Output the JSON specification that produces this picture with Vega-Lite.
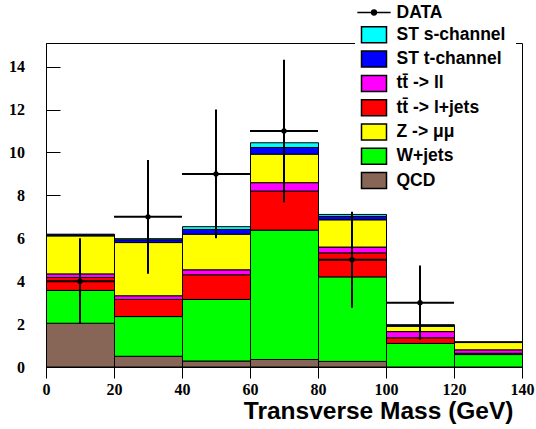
{
  "$schema": "https://vega.github.io/schema/vega-lite/v6.json",
  "width": 476,
  "height": 324,
  "autosize": "none",
  "padding": {"left": 46, "top": 43, "right": 14, "bottom": 62},
  "background": "white",
  "config": {"view": {"stroke": "black", "strokeWidth": 1}},
  "datasets": {
    "stack": [
      {"lo": 0, "hi": 20, "proc": "QCD", "ord": 1, "n": 2.04},
      {"lo": 0, "hi": 20, "proc": "W+jets", "ord": 2, "n": 1.53},
      {"lo": 0, "hi": 20, "proc": "tt\u0304 -> l+jets", "ord": 3, "n": 0.60},
      {"lo": 0, "hi": 20, "proc": "tt\u0304 -> ll", "ord": 4, "n": 0.17},
      {"lo": 0, "hi": 20, "proc": "Z -> μμ", "ord": 5, "n": 1.77},
      {"lo": 0, "hi": 20, "proc": "ST t-channel", "ord": 6, "n": 0.05},
      {"lo": 0, "hi": 20, "proc": "ST s-channel", "ord": 7, "n": 0.03},
      {"lo": 20, "hi": 40, "proc": "QCD", "ord": 1, "n": 0.50},
      {"lo": 20, "hi": 40, "proc": "W+jets", "ord": 2, "n": 1.85},
      {"lo": 20, "hi": 40, "proc": "tt\u0304 -> l+jets", "ord": 3, "n": 0.80},
      {"lo": 20, "hi": 40, "proc": "tt\u0304 -> ll", "ord": 4, "n": 0.17},
      {"lo": 20, "hi": 40, "proc": "Z -> μμ", "ord": 5, "n": 2.48},
      {"lo": 20, "hi": 40, "proc": "ST t-channel", "ord": 6, "n": 0.13},
      {"lo": 20, "hi": 40, "proc": "ST s-channel", "ord": 7, "n": 0.05},
      {"lo": 40, "hi": 60, "proc": "QCD", "ord": 1, "n": 0.28},
      {"lo": 40, "hi": 60, "proc": "W+jets", "ord": 2, "n": 2.87},
      {"lo": 40, "hi": 60, "proc": "tt\u0304 -> l+jets", "ord": 3, "n": 1.15},
      {"lo": 40, "hi": 60, "proc": "tt\u0304 -> ll", "ord": 4, "n": 0.23},
      {"lo": 40, "hi": 60, "proc": "Z -> μμ", "ord": 5, "n": 1.66},
      {"lo": 40, "hi": 60, "proc": "ST t-channel", "ord": 6, "n": 0.22},
      {"lo": 40, "hi": 60, "proc": "ST s-channel", "ord": 7, "n": 0.13},
      {"lo": 60, "hi": 80, "proc": "QCD", "ord": 1, "n": 0.35},
      {"lo": 60, "hi": 80, "proc": "W+jets", "ord": 2, "n": 6.03},
      {"lo": 60, "hi": 80, "proc": "tt\u0304 -> l+jets", "ord": 3, "n": 1.82},
      {"lo": 60, "hi": 80, "proc": "tt\u0304 -> ll", "ord": 4, "n": 0.39},
      {"lo": 60, "hi": 80, "proc": "Z -> μμ", "ord": 5, "n": 1.33},
      {"lo": 60, "hi": 80, "proc": "ST t-channel", "ord": 6, "n": 0.31},
      {"lo": 60, "hi": 80, "proc": "ST s-channel", "ord": 7, "n": 0.22},
      {"lo": 80, "hi": 100, "proc": "QCD", "ord": 1, "n": 0.26},
      {"lo": 80, "hi": 100, "proc": "W+jets", "ord": 2, "n": 3.94},
      {"lo": 80, "hi": 100, "proc": "tt\u0304 -> l+jets", "ord": 3, "n": 1.12},
      {"lo": 80, "hi": 100, "proc": "tt\u0304 -> ll", "ord": 4, "n": 0.27},
      {"lo": 80, "hi": 100, "proc": "Z -> μμ", "ord": 5, "n": 1.27},
      {"lo": 80, "hi": 100, "proc": "ST t-channel", "ord": 6, "n": 0.16},
      {"lo": 80, "hi": 100, "proc": "ST s-channel", "ord": 7, "n": 0.09},
      {"lo": 100, "hi": 120, "proc": "W+jets", "ord": 2, "n": 1.10},
      {"lo": 100, "hi": 120, "proc": "tt\u0304 -> l+jets", "ord": 3, "n": 0.26},
      {"lo": 100, "hi": 120, "proc": "tt\u0304 -> ll", "ord": 4, "n": 0.29},
      {"lo": 100, "hi": 120, "proc": "Z -> μμ", "ord": 5, "n": 0.25},
      {"lo": 100, "hi": 120, "proc": "ST t-channel", "ord": 6, "n": 0.04},
      {"lo": 100, "hi": 120, "proc": "ST s-channel", "ord": 7, "n": 0.03},
      {"lo": 120, "hi": 140, "proc": "W+jets", "ord": 2, "n": 0.58},
      {"lo": 120, "hi": 140, "proc": "tt\u0304 -> l+jets", "ord": 3, "n": 0.06},
      {"lo": 120, "hi": 140, "proc": "tt\u0304 -> ll", "ord": 4, "n": 0.16},
      {"lo": 120, "hi": 140, "proc": "Z -> μμ", "ord": 5, "n": 0.34},
      {"lo": 120, "hi": 140, "proc": "ST t-channel", "ord": 6, "n": 0.02},
      {"lo": 120, "hi": 140, "proc": "ST s-channel", "ord": 7, "n": 0.01}
    ],
    "obs": [
      {"xc": 10, "xlo": 0, "xhi": 20, "v": 4, "elo": 2, "ehi": 6},
      {"xc": 30, "xlo": 20, "xhi": 40, "v": 7, "elo": 4.35, "ehi": 9.65},
      {"xc": 50, "xlo": 40, "xhi": 60, "v": 9, "elo": 6, "ehi": 12},
      {"xc": 70, "xlo": 60, "xhi": 80, "v": 11, "elo": 7.68, "ehi": 14.32},
      {"xc": 90, "xlo": 80, "xhi": 100, "v": 5, "elo": 2.76, "ehi": 7.24},
      {"xc": 110, "xlo": 100, "xhi": 120, "v": 3, "elo": 1.27, "ehi": 4.73}
    ]
  },
  "layer": [
    {
      "data": {"name": "stack"},
      "mark": {"type": "bar", "stroke": "black", "strokeWidth": 1, "opacity": 1, "binSpacing": 0},
      "encoding": {
        "x": {
          "field": "lo", "type": "quantitative", "bin": "binned",
          "title": "Transverse Mass (GeV)",
          "scale": {"domain": [0, 140], "nice": false, "zero": false},
          "axis": {
            "values": [0,5,10,15,20,25,30,35,40,45,50,55,60,65,70,75,80,85,90,95,100,105,110,115,120,125,130,135,140],
            "format": "d",
            "labelExpr": "datum.value % 20 === 0 ? datum.label : ''",
            "tickSize": {"condition": {"test": "datum.value % 20 === 0", "value": 11}, "value": 6},
            "tickColor": "black", "tickWidth": 1, "domainColor": "black", "grid": false,
            "labelFont": "Times New Roman, Liberation Serif, DejaVu Serif, serif", "labelFontWeight": "bold", "labelFontSize": 16, "labelColor": "black",
            "labelPadding": 3, "labelFlush": false, "labelOverlap": false,
            "titleFont": "Liberation Sans, sans-serif", "titleFontWeight": "bold", "titleFontSize": 24.5, "titleColor": "black",
            "titleAnchor": "end", "titleAlign": "right", "titleBaseline": "alphabetic", "titleX": 467, "titleY": 51
          }
        },
        "x2": {"field": "hi"},
        "y": {
          "field": "n", "type": "quantitative", "stack": "zero", "title": null,
          "scale": {"domain": [0, 15.1], "nice": false},
          "axis": {
            "values": [0,0.5,1,1.5,2,2.5,3,3.5,4,4.5,5,5.5,6,6.5,7,7.5,8,8.5,9,9.5,10,10.5,11,11.5,12,12.5,13,13.5,14,14.5],
            "format": "d",
            "labelExpr": "datum.value % 2 === 0 ? datum.label : ''",
            "tickSize": {"condition": {"test": "datum.value % 2 === 0", "value": -14}, "value": -7},
            "tickColor": "black", "tickWidth": 1, "domainColor": "black", "grid": false,
            "labelFont": "Times New Roman, Liberation Serif, DejaVu Serif, serif", "labelFontWeight": "bold", "labelFontSize": 16, "labelColor": "black",
            "labelPadding": 35.5, "labelFlush": false, "labelOverlap": false
          }
        },
        "color": {
          "field": "proc", "type": "nominal",
          "scale": {
            "domain": ["DATA", "ST s-channel", "ST t-channel", "tt\u0304 -> ll", "tt\u0304 -> l+jets", "Z -> μμ", "W+jets", "QCD"],
            "range": ["#000000", "#00ffff", "#0000ff", "#ff00ff", "#ff0000", "#ffff00", "#00ff00", "#876657"]
          },
          "legend": {
            "title": null, "orient": "none", "legendX": 309, "legendY": -49.5,
            "padding": 10, "fillColor": "white",
            "labelFont": "Liberation Sans, sans-serif", "labelFontWeight": "bold", "labelFontSize": 17.5, "labelColor": "black",
            "labelOffset": 13.5, "labelLimit": 300,
            "symbolType": "M-1.5625,-1L1.5625,-1L1.5625,1L-1.5625,1Z",
            "symbolSize": 256, "symbolStrokeColor": "black", "symbolStrokeWidth": 1.5, "symbolOpacity": 1,
            "rowPadding": 2.3,
            "encode": {
              "symbols": {
                "update": {
                  "shape": {"signal": "datum.value === 'DATA' ? 'M-2.08,0L2.08,0M-0.3,0A0.3,0.3,0,1,0,0.3,0A0.3,0.3,0,1,0,-0.3,0Z' : 'M-1.5625,-1L1.5625,-1L1.5625,1L-1.5625,1Z'"}
                }
              }
            }
          }
        },
        "order": {"field": "ord", "type": "quantitative"}
      }
    },
    {
      "data": {"name": "obs"},
      "mark": {"type": "rule", "color": "black", "strokeWidth": 2},
      "encoding": {
        "x": {"field": "xc", "type": "quantitative", "title": "Transverse Mass (GeV)"},
        "y": {"field": "elo", "type": "quantitative", "title": null},
        "y2": {"field": "ehi"}
      }
    },
    {
      "data": {"name": "obs"},
      "mark": {"type": "rule", "color": "black", "strokeWidth": 2},
      "encoding": {
        "x": {"field": "xlo", "type": "quantitative", "title": "Transverse Mass (GeV)"},
        "x2": {"field": "xhi"},
        "y": {"field": "v", "type": "quantitative", "title": null}
      }
    },
    {
      "data": {"name": "obs"},
      "mark": {"type": "point", "filled": true, "color": "black", "opacity": 1, "size": 28},
      "encoding": {
        "x": {"field": "xc", "type": "quantitative", "title": "Transverse Mass (GeV)"},
        "y": {"field": "v", "type": "quantitative", "title": null}
      }
    }
  ]
}
